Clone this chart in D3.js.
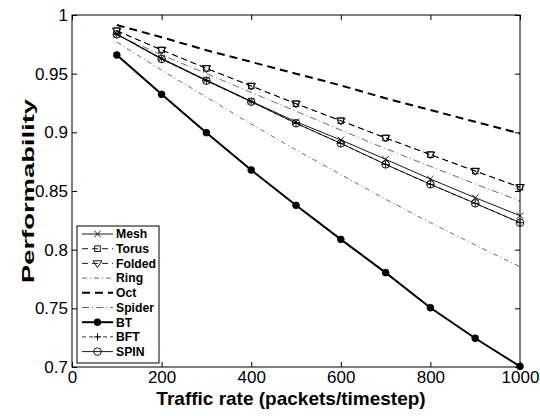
<!DOCTYPE html>
<html>
<head>
<meta charset="utf-8">
<script src="https://cdn.jsdelivr.net/npm/d3@7"></script>
<style>
  html, body { margin: 0; padding: 0; background: #fff; }
  svg { display: block; }
  text { font-family: "Liberation Sans", Arial, Helvetica, sans-serif; fill: #000; }
</style>
</head>
<body>
<svg id="chart" width="540" height="416"></svg>
<script>
// Traffic rates (packets/timestep)
const rates = [100, 200, 300, 400, 500, 600, 700, 800, 900, 1000];

// Performability per topology
const mesh   = [0.9838, 0.9630, 0.9446, 0.9265, 0.9090, 0.8935, 0.8770, 0.8602, 0.8443, 0.8290];
const torus  = [0.9866, 0.9702, 0.9545, 0.9395, 0.9244, 0.9099, 0.8952, 0.8810, 0.8670, 0.8532];
const folded = [0.9866, 0.9702, 0.9545, 0.9395, 0.9244, 0.9099, 0.8952, 0.8810, 0.8670, 0.8532];
const ring   = [0.9770, 0.9530, 0.9300, 0.9070, 0.8850, 0.8640, 0.8430, 0.8230, 0.8040, 0.7855];
const oct    = [0.9915, 0.9810, 0.9700, 0.9600, 0.9500, 0.9400, 0.9290, 0.9190, 0.9090, 0.8990];
const spider = [0.9830, 0.9660, 0.9500, 0.9340, 0.9180, 0.9020, 0.8860, 0.8710, 0.8560, 0.8415];
const bt     = [0.9659, 0.9324, 0.8997, 0.8679, 0.8378, 0.8088, 0.7804, 0.7505, 0.7245, 0.7005];
const bft    = [0.9835, 0.9625, 0.9440, 0.9261, 0.9077, 0.8906, 0.8727, 0.8557, 0.8395, 0.8230];
const spin   = [0.9835, 0.9625, 0.9440, 0.9261, 0.9077, 0.8906, 0.8727, 0.8557, 0.8395, 0.8230];

// Axis ticks
const xTicks = [0, 200, 400, 600, 800, 1000];
const yTicks = [0.7, 0.75, 0.8, 0.85, 0.9, 0.95, 1];
const yTickLabels = ["0.7", "0.75", "0.8", "0.85", "0.9", "0.95", "1"];

const seriesNames = ["Mesh", "Torus", "Folded", "Ring", "Oct", "Spider", "BT", "BFT", "SPIN"];
const seriesValues = [mesh, torus, folded, ring, oct, spider, bt, bft, spin];

// Line and marker style per series
const styles = {
  Mesh:   { dash: null,          width: 0.9, marker: "x" },
  Torus:  { dash: "6,4",         width: 0.9, marker: "square" },
  Folded: { dash: "6,4",         width: 0.9, marker: "tri" },
  Ring:   { dash: "5,3,1,3",     width: 0.8, marker: null, color: "#444" },
  Oct:    { dash: "8,5",         width: 2.0, marker: null },
  Spider: { dash: "7,3,1,3",     width: 0.8, marker: null, color: "#444" },
  BT:     { dash: null,          width: 2.0, marker: "dot" },
  BFT:    { dash: "4,3",         width: 0.8, marker: "plus" },
  SPIN:   { dash: null,          width: 0.9, marker: "circle" }
};

const svg = d3.select("#chart");
const margin = { left: 72, right: 20, top: 15, bottom: 49 };
const W = 540, H = 416;
const x = d3.scaleLinear().domain([0, 1000]).range([margin.left, W - margin.right]);
const y = d3.scaleLinear().domain([0.7, 1]).range([H - margin.bottom, margin.top]);

const plot = svg.append("g");

// Series lines
const line = d3.line().x((d, i) => x(rates[i])).y(d => y(d));

function drawMarker(g, type, cx, cy) {
  const s = 3.2;
  if (type === "x") {
    g.append("path").attr("d", `M${cx - s},${cy - s}L${cx + s},${cy + s}M${cx - s},${cy + s}L${cx + s},${cy - s}`)
      .attr("stroke", "#000").attr("stroke-width", 0.9).attr("fill", "none");
  } else if (type === "plus") {
    g.append("path").attr("d", `M${cx - s - 0.5},${cy}L${cx + s + 0.5},${cy}M${cx},${cy - s - 0.5}L${cx},${cy + s + 0.5}`)
      .attr("stroke", "#000").attr("stroke-width", 0.9).attr("fill", "none");
  } else if (type === "square") {
    g.append("rect").attr("x", cx - 2.8).attr("y", cy - 2.8).attr("width", 5.6).attr("height", 5.6)
      .attr("stroke", "#000").attr("stroke-width", 0.9).attr("fill", "none");
  } else if (type === "tri") {
    const r = 4.4;
    g.append("path").attr("d", `M${cx - r},${cy - r * 0.6}L${cx + r},${cy - r * 0.6}L${cx},${cy + r * 0.95}Z`)
      .attr("stroke", "#000").attr("stroke-width", 0.9).attr("fill", "none");
  } else if (type === "circle") {
    g.append("circle").attr("cx", cx).attr("cy", cy).attr("r", 3.8)
      .attr("stroke", "#000").attr("stroke-width", 0.9).attr("fill", "none");
  } else if (type === "dot") {
    g.append("circle").attr("cx", cx).attr("cy", cy).attr("r", 3.4)
      .attr("stroke", "#000").attr("stroke-width", 0.8).attr("fill", "#000");
  }
}

seriesNames.forEach((name, k) => {
  const st = styles[name];
  const vals = seriesValues[k];
  plot.append("path")
    .datum(vals)
    .attr("d", line)
    .attr("fill", "none")
    .attr("stroke", st.color || "#000")
    .attr("stroke-width", st.width)
    .attr("stroke-dasharray", st.dash);
  if (st.marker) {
    const mg = plot.append("g");
    vals.forEach((v, i) => drawMarker(mg, st.marker, x(rates[i]), y(v)));
  }
});

// Axes box with inward ticks on all four sides
const x0 = x(0), x1 = x(1000), y0 = y(0.7), y1 = y(1);
const tl = 5;
svg.append("rect").attr("x", x0).attr("y", y1).attr("width", x1 - x0).attr("height", y0 - y1)
  .attr("fill", "none").attr("stroke", "#000").attr("stroke-width", 1);

const bottomAxis = d3.axisBottom(x).tickValues(xTicks).tickSize(-tl).tickPadding(3).tickFormat(d3.format("d"));
const gb = svg.append("g").attr("transform", `translate(0,${y0})`).call(bottomAxis);
const topAxis = d3.axisTop(x).tickValues(xTicks).tickSize(-tl).tickFormat("");
const gt = svg.append("g").attr("transform", `translate(0,${y1})`).call(topAxis);
const leftAxis = d3.axisLeft(y).tickValues(yTicks).tickSize(-tl).tickPadding(4)
  .tickFormat((d, i) => yTickLabels[i]);
const gl = svg.append("g").attr("transform", `translate(${x0},0)`).call(leftAxis);
const rightAxis = d3.axisRight(y).tickValues(yTicks).tickSize(-tl).tickFormat("");
const gr = svg.append("g").attr("transform", `translate(${x1},0)`).call(rightAxis);

[gb, gt, gl, gr].forEach(g => {
  g.select(".domain").remove();
  g.selectAll(".tick line").attr("stroke", "#000").attr("stroke-width", 1);
  g.selectAll("text").style("font-size", "17px").style("font-family", "'Liberation Sans', Arial, sans-serif").attr("fill", "#000");
});
gb.selectAll("text").attr("y", 3).attr("dy", "0.75em");

// Axis titles
svg.append("text").attr("x", 291).attr("y", 405).attr("text-anchor", "middle")
  .style("font-size", "19px").style("font-weight", "bold").text("Traffic rate (packets/timestep)");
svg.append("text").attr("transform", `translate(34,${(y0 + y1) / 2}) rotate(-90)`).attr("text-anchor", "middle")
  .attr("textLength", 184).attr("lengthAdjust", "spacingAndGlyphs")
  .style("font-size", "17px").style("font-weight", "bold").text("Performability");

// Legend
const lg = svg.append("g");
const lx = 77, ly = 226, lw = 82, lh = 137, rowH = 14.7;
lg.append("rect").attr("x", lx).attr("y", ly).attr("width", lw).attr("height", lh)
  .attr("fill", "#fff").attr("stroke", "#000").attr("stroke-width", 1);
seriesNames.forEach((name, k) => {
  const st = styles[name];
  const cy = ly + 8 + k * rowH;
  lg.append("line").attr("x1", lx + 5).attr("x2", lx + 36).attr("y1", cy).attr("y2", cy)
    .attr("stroke", st.color || "#000").attr("stroke-width", st.width)
    .attr("stroke-dasharray", st.dash);
  if (st.marker) drawMarker(lg, st.marker, lx + 20.5, cy);
  lg.append("text").attr("x", lx + 39).attr("y", cy).attr("dy", "0.36em")
    .style("font-size", "12.2px").style("font-weight", "bold").text(name);
});
</script>
</body>
</html>
